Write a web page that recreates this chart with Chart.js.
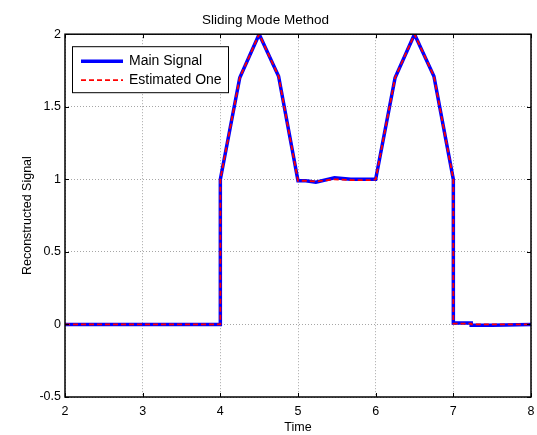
<!DOCTYPE html>
<html>
<head>
<meta charset="utf-8">
<script src="https://cdn.jsdelivr.net/npm/chart.js@4.4.0/dist/chart.umd.min.js"></script>
<style>
  html, body { margin: 0; padding: 0; background: #fff; }
</style>
</head>
<body>
<canvas id="chart" width="537" height="435"></canvas>
<script>
// values
const timeVals = [2, 3, 4, 4, 4.25, 4.5, 4.75, 5, 5.1, 5.23, 5.47, 5.68, 5.96, 6, 6.25, 6.5, 6.75, 7, 7, 7.23, 7.23, 7.5, 8];
const mainVals = [0, 0, 0, 1, 1.7, 2, 1.71, 0.99, 0.99, 0.98, 1.01, 1.0, 1.0, 1.0, 1.7, 2, 1.71, 1.0, 0.01, 0.01, -0.005, -0.005, 0];
const estVals  = [0, 0, 0, 1, 1.7, 2, 1.71, 0.99, 0.99, 0.985, 1.0, 0.995, 0.995, 1.0, 1.7, 2, 1.71, 1.0, 0.005, 0.005, 0, 0, 0];
const seriesNames = ['Main Signal', 'Estimated One'];
const xTicks = [2, 3, 4, 5, 6, 7, 8];
const yTicks = [-0.5, 0, 0.5, 1, 1.5, 2];

const FONT = 'Arial, "Liberation Sans", sans-serif';

function pts(ys) {
  return timeVals.map((t, i) => ({ x: t, y: ys[i] }));
}

// black box with inward tick marks, matlab style
const framePlugin = {
  id: 'frame',
  afterDraw(chart) {
    const ctx = chart.ctx;
    const a = chart.chartArea;
    const xs = chart.scales.x, ys = chart.scales.y;
    ctx.save();
    ctx.strokeStyle = '#000';
    ctx.lineWidth = 1;
    ctx.beginPath();
    xTicks.forEach(v => {
      const px = Math.round(xs.getPixelForValue(v)) + 0.5;
      ctx.moveTo(px, a.top); ctx.lineTo(px, a.top + 4);
      ctx.moveTo(px, a.bottom); ctx.lineTo(px, a.bottom - 4);
    });
    yTicks.forEach(v => {
      const py = Math.round(ys.getPixelForValue(v)) + 0.5;
      ctx.moveTo(a.left, py); ctx.lineTo(a.left + 4, py);
      ctx.moveTo(a.right, py); ctx.lineTo(a.right - 4, py);
    });
    ctx.stroke();
    ctx.lineWidth = 1.5;
    ctx.strokeRect(a.left, a.top, a.right - a.left, a.bottom - a.top);

    // legend box inside the axes
    const lx = a.left + 7, ly = a.top + 12, lw = 156, lh = 46;
    ctx.fillStyle = '#fff';
    ctx.fillRect(lx, ly, lw, lh);
    ctx.lineWidth = 1;
    ctx.strokeRect(lx + 0.5, ly + 0.5, lw, lh);
    const ds = chart.data.datasets;
    ds.forEach((d, i) => {
      const y = ly + 15 + i * 19;
      ctx.beginPath();
      ctx.strokeStyle = d.borderColor;
      ctx.lineWidth = d.borderWidth;
      ctx.setLineDash(d.borderDash || []);
      ctx.moveTo(lx + 9, y);
      ctx.lineTo(lx + 51, y);
      ctx.stroke();
      ctx.setLineDash([]);
      ctx.fillStyle = '#000';
      ctx.font = '14px ' + FONT;
      ctx.textBaseline = 'middle';
      ctx.textAlign = 'left';
      ctx.fillText(d.label, lx + 57, y);
    });
    ctx.restore();
  }
};

new Chart(document.getElementById('chart'), {
  type: 'scatter',
  data: {
    datasets: [
      {
        label: seriesNames[0],
        data: pts(mainVals),
        showLine: true,
        borderColor: '#0000ff',
        borderWidth: 3.5,
        pointRadius: 0,
        tension: 0,
        order: 2
      },
      {
        label: seriesNames[1],
        data: pts(estVals),
        showLine: true,
        borderColor: '#ff0000',
        borderWidth: 1.8,
        borderDash: [5, 3],
        pointRadius: 0,
        tension: 0,
        order: 1
      }
    ]
  },
  options: {
    responsive: false,
    animation: false,
    layout: { padding: { left: 0, right: 6, top: 0, bottom: 0 } },
    plugins: {
      legend: { display: false },
      tooltip: { enabled: false },
      title: {
        display: true,
        text: 'Sliding Mode Method',
        color: '#000',
        font: { family: FONT, size: 13.5, weight: 'normal' },
        padding: { top: 12, bottom: 6 }
      }
    },
    scales: {
      x: {
        type: 'linear',
        min: 2, max: 8,
        afterBuildTicks: s => { s.ticks = xTicks.map(v => ({ value: v })); },
        afterFit: s => { s.height = 38; s.paddingLeft = 0; s.paddingRight = 0; },
        grid: { color: 'rgba(0,0,0,0.35)', drawTicks: false },
        border: { display: false, dash: [1, 2] },
        ticks: { color: '#000', padding: 7, font: { family: FONT, size: 12.5 }, maxRotation: 0, callback: v => String(v) },
        title: { display: true, text: 'Time', color: '#000', font: { family: FONT, size: 12.5 }, padding: { top: 2, bottom: 0 } }
      },
      y: {
        type: 'linear',
        min: -0.5, max: 2,
        afterBuildTicks: s => { s.ticks = yTicks.map(v => ({ value: v })); },
        afterFit: s => { s.width = 65; },
        grid: { color: 'rgba(0,0,0,0.35)', drawTicks: false },
        border: { display: false, dash: [1, 2] },
        ticks: { color: '#000', padding: 4, font: { family: FONT, size: 12.5 }, callback: v => String(v) },
        title: { display: true, text: 'Reconstructed Signal', color: '#000', font: { family: FONT, size: 12.5 }, padding: { top: 20, bottom: 0 } }
      }
    }
  },
  plugins: [framePlugin]
});
</script>
</body>
</html>
